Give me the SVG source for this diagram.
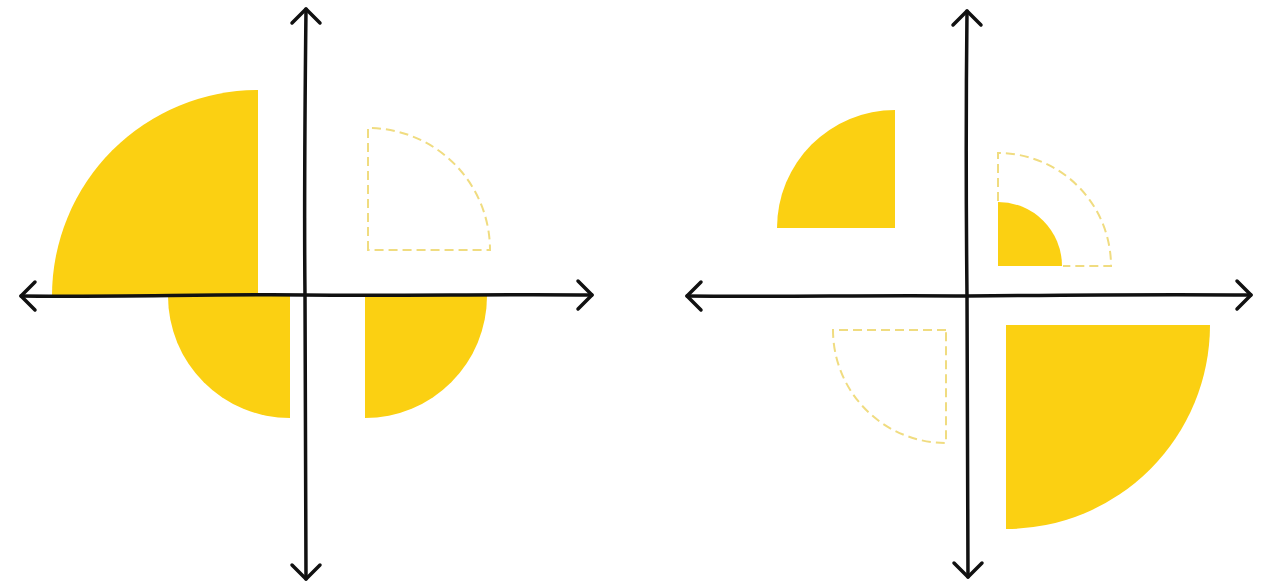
<svg xmlns="http://www.w3.org/2000/svg" width="1263" height="588" viewBox="0 0 1263 588">
<style>
.fill{fill:#FBD012;stroke:none}
.dash{fill:none;stroke:#F0DC80;stroke-width:2;stroke-dasharray:9 5}
.axis{fill:none;stroke:#111;stroke-width:3.5;stroke-linecap:round;stroke-linejoin:round}
</style>
<rect width="1263" height="588" fill="#fff"/>
<g id="left-shapes">
<path id="L-q2" class="fill" d="M258,296 L52,296 A206,206 0 0 1 258,90 Z"/>
<path id="L-q3" class="fill" d="M290,296 L168,296 A122,122 0 0 0 290,418 Z"/>
<path id="L-q4" class="fill" d="M365,296 L487,296 A122,122 0 0 1 365,418 Z"/>
<path id="L-q1" class="dash" d="M368,250 L368,128 A122,122 0 0 1 490,250 Z"/>
</g>
<g id="right-shapes">
<path id="R-q2" class="fill" d="M895,228 L777,228 A118,118 0 0 1 895,110 Z"/>
<path id="R-q1-dash" class="dash" d="M998,201 L998,153 A113,113 0 0 1 1111,266 L1063,266"/>
<path id="R-q1" class="fill" d="M998,266 L998,202 A64,64 0 0 1 1062,266 Z"/>
<path id="R-q3" class="dash" d="M946,330 L833,330 A113,113 0 0 0 946,443 Z"/>
<path id="R-q4" class="fill" d="M1006,325 L1210,325 A204,204 0 0 1 1006,529 Z"/>
</g>
<g id="connectors">
<g id="left-axes">
<path class="axis" d="M21,296 C120,297 220,294 305,295 C400,296 500,294 592,295"/>
<path class="axis" d="M35,282 L21,296 L35,310"/>
<path class="axis" d="M578,281 L592,295 L578,309"/>
<path class="axis" d="M306,9 C305,100 304,200 305,296 C306,400 306,500 306,579"/>
<path class="axis" d="M292,23 L306,9 L320,23"/>
<path class="axis" d="M292,565 L306,579 L320,565"/>
</g>
<g id="right-axes">
<path class="axis" d="M687,296 C780,297 880,295 967,296 C1060,295 1160,294 1251,295"/>
<path class="axis" d="M701,282 L687,296 L701,310"/>
<path class="axis" d="M1237,281 L1251,295 L1237,309"/>
<path class="axis" d="M967,11 C966,100 966,200 967,296 C968,400 968,500 968,577"/>
<path class="axis" d="M953,25 L967,11 L981,25"/>
<path class="axis" d="M954,563 L968,577 L982,563"/>
</g>
</g>
</svg>
